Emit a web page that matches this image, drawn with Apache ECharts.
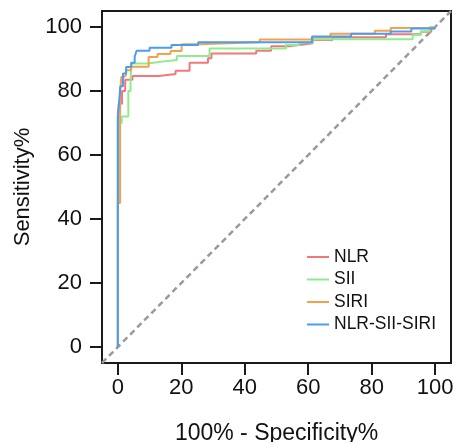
<!DOCTYPE html>
<html>
<head>
<meta charset="utf-8">
<script src="https://cdn.jsdelivr.net/npm/echarts@6/dist/echarts.min.js"></script>
<style>html,body{margin:0;padding:0;background:#fff}#c{width:454px;height:442px}</style>
</head>
<body>
<div id="c"></div>
<script>
var seriesNames = ['NLR', 'SII', 'SIRI', 'NLR-SII-SIRI'];
var xTicks = [0, 20, 40, 60, 80, 100];
var yTicks = [0, 20, 40, 60, 80, 100];

var nlr = [[0,0],[0,72],[0.3,72],[0.3,76],[1.3,76],[1.3,80],[2.3,80],[2.3,83.5],[4.6,83.5],[4.6,84.7],[12.9,84.7],[12.9,85.3],[18.2,85.3],[18.2,86.3],[22.6,86.3],[22.6,88.8],[28.4,88.8],[28.4,90.2],[29.5,90.2],[29.5,91.7],[43.6,91.7],[43.6,92.6],[48.3,92.6],[48.3,94],[53.6,94],[53.6,94.4],[57.2,94.4],[57.2,94.9],[61.4,94.9],[61.4,95.9],[67.6,95.9],[67.6,96.8],[84.5,96.8],[84.5,97.7],[95.5,97.7],[95.5,98.5],[98.8,98.5],[98.8,100],[100,100]];
var sii = [[0,0],[0,70],[1.2,70],[1.2,72],[3.3,72],[3.3,80],[4,80],[4,84],[4.3,84],[4.3,88.6],[9.5,88.6],[9.5,89.1],[13.2,89.1],[13.2,89.7],[18.6,89.7],[18.6,90.9],[28.9,90.9],[28.9,93.3],[53,93.3],[53,94.4],[57.2,94.4],[57.2,95.1],[61.4,95.1],[61.4,96.2],[92.9,96.2],[92.9,97.5],[95.5,97.5],[95.5,98.7],[98.3,98.7],[98.3,100],[100,100]];
var siri = [[0,0],[0,45],[0.7,45],[0.7,79.7],[1.1,79.7],[1.1,84.4],[1.9,84.4],[1.9,85],[2.6,85],[2.6,86.5],[4.2,86.5],[4.2,87.6],[9.7,87.6],[9.7,90.6],[12.5,90.6],[12.5,91.6],[16.6,91.6],[16.6,92.5],[20.1,92.5],[20.1,94.6],[25.3,94.6],[25.3,95.2],[44.7,95.2],[44.7,96.1],[61.4,96.1],[61.4,96.8],[67,96.8],[67,97.9],[81,97.9],[81,98.8],[86,98.8],[86,99.7],[100,99.7],[100,100]];
var combo = [[0,0],[0,72],[0.5,72],[0.5,78],[0.8,78],[0.8,81.5],[1.6,81.5],[1.6,85.5],[2.6,85.5],[2.6,87.5],[4.2,87.5],[4.2,88.8],[5.3,88.8],[5.3,90.7],[5.9,90.7],[5.9,92.6],[10,92.6],[10,93.5],[16.9,93.5],[16.9,94.4],[25.3,94.4],[25.3,95.2],[61.2,95.2],[61.2,97],[73.5,97],[73.5,97.9],[86,97.9],[86,98.6],[92.5,98.6],[92.5,99.5],[99.7,99.5],[99.7,100],[100,100]];
var diagonal = [[-5,-5],[105,105]];

var colors = ['#F27878', '#8EEB8E', '#F7A04A', '#4A9DF0'];
var dataSets = [nlr, sii, siri, combo];

var chart = echarts.init(document.getElementById('c'), null, {renderer: 'canvas'});
var font = 'Liberation Sans, Arial, sans-serif';
var series = [{
  type: 'line', data: diagonal, symbol: 'none', silent: true,
  lineStyle: {color: '#9a9a9a', width: 2.5, type: [6, 4]}, z: 1
}];
seriesNames.forEach(function (n, i) {
  series.push({
    name: n, type: 'line', data: dataSets[i], symbol: 'none',
    lineStyle: {color: colors[i], width: 2}, itemStyle: {color: colors[i]}, z: 2 + i
  });
});
chart.setOption({
  animation: false,
  grid: {left: 102, right: 3, top: 11, bottom: 79, show: true, borderColor: '#1a1a1a', borderWidth: 2,
    containLabel: false, outerBoundsMode: 'none'},
  legend: {
    data: seriesNames, orient: 'vertical', left: 307, top: 247, padding: 0,
    icon: 'rect', itemWidth: 22, itemHeight: 2, itemGap: 2.5,
    textStyle: {fontFamily: font, fontSize: 17.5, color: '#111', lineHeight: 20}
  },
  xAxis: {
    type: 'value', min: -5, max: 105,
    name: '100% - Specificity%', nameLocation: 'middle', nameGap: 59,
    nameTextStyle: {fontFamily: font, fontSize: 23, color: '#111'},
    splitLine: {show: false},
    axisLine: {show: true, onZero: false, lineStyle: {color: '#1a1a1a', width: 2}},
    axisTick: {show: true, length: 12, lineStyle: {color: '#1a1a1a', width: 2},
      customValues: xTicks},
    axisLabel: {fontFamily: font, fontSize: 22, color: '#111', margin: 14,
      customValues: xTicks}
  },
  yAxis: {
    type: 'value', min: -5, max: 105,
    name: 'Sensitivity%', nameLocation: 'middle', nameGap: 68, nameRotate: 90,
    nameTextStyle: {fontFamily: font, fontSize: 22, color: '#111'},
    splitLine: {show: false},
    axisLine: {show: true, onZero: false, lineStyle: {color: '#1a1a1a', width: 2}},
    axisTick: {show: true, length: 12, lineStyle: {color: '#1a1a1a', width: 2},
      customValues: yTicks},
    axisLabel: {fontFamily: font, fontSize: 22, color: '#111', margin: 20,
      customValues: yTicks}
  },
  series: series
});
</script>
</body>
</html>
